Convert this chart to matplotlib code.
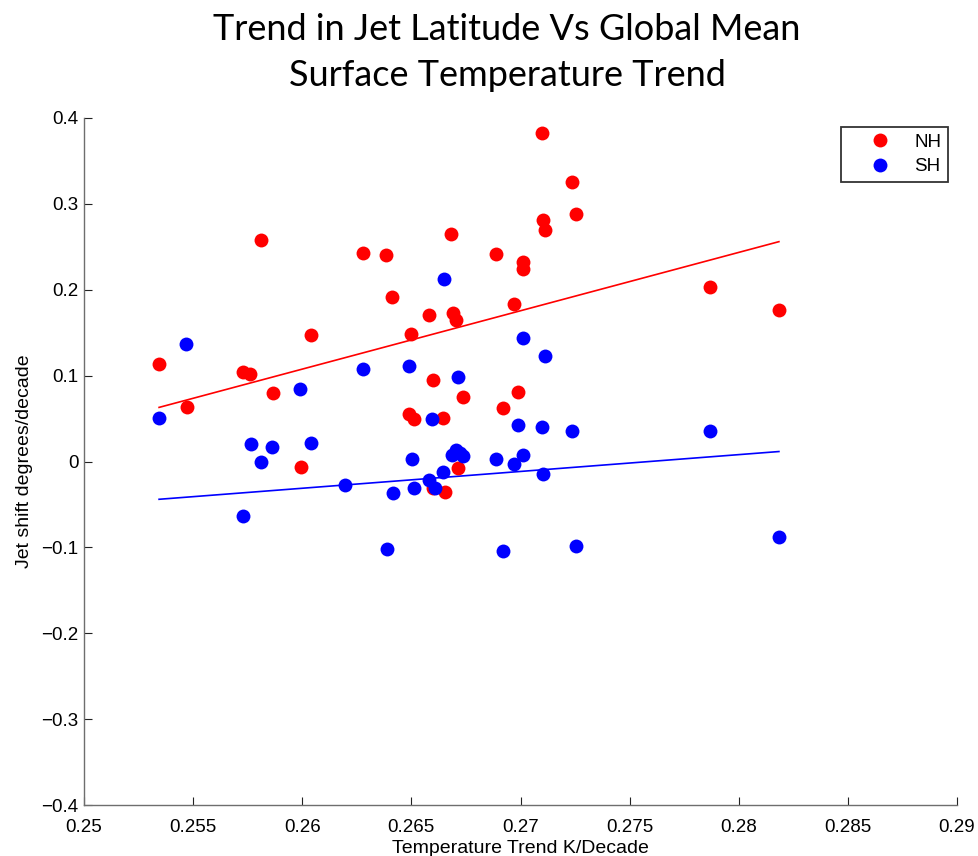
import matplotlib
matplotlib.use("Agg")
import matplotlib.pyplot as plt
import numpy as np

# NH (red) points
nh_x = [0.25344, 0.25472, 0.25729, 0.25761, 0.25811, 0.25866, 0.25994, 0.2604,
        0.26278, 0.26384, 0.26411, 0.26498, 0.26489, 0.26512, 0.26581, 0.26599,
        0.26599, 0.26645, 0.26654, 0.26682, 0.26691, 0.26704, 0.26714, 0.26737,
        0.26888, 0.2692, 0.2697, 0.26989, 0.27011, 0.27011, 0.27098, 0.27103,
        0.27112, 0.27236, 0.27254, 0.27868, 0.28184]
nh_y = [0.114, 0.064, 0.104, 0.102, 0.258, 0.080, -0.006, 0.147,
        0.243, 0.240, 0.191, 0.148, 0.055, 0.049, 0.171, 0.095,
        -0.031, 0.051, -0.035, 0.265, 0.173, 0.165, -0.007, 0.075,
        0.242, 0.062, 0.183, 0.081, 0.232, 0.224, 0.382, 0.281,
        0.270, 0.325, 0.288, 0.203, 0.177]

# SH (blue) points
sh_x = [0.25344, 0.25467, 0.25729, 0.25765, 0.25811, 0.25861, 0.2599, 0.2604,
        0.26196, 0.26278, 0.26416, 0.26388, 0.26489, 0.26503, 0.26512, 0.26581,
        0.26594, 0.26608, 0.26645, 0.2665, 0.26686, 0.26704, 0.26723, 0.26737,
        0.26714, 0.26888, 0.2692, 0.2697, 0.26989, 0.27011, 0.27011, 0.27098,
        0.27103, 0.27112, 0.27236, 0.27254, 0.27868, 0.28184]
sh_y = [0.051, 0.137, -0.064, 0.020, 0.000, 0.017, 0.084, 0.021,
        -0.027, 0.108, -0.037, -0.102, 0.111, 0.003, -0.031, -0.022,
        0.050, -0.031, -0.012, 0.212, 0.007, 0.013, 0.010, 0.006,
        0.098, 0.003, -0.104, -0.003, 0.043, 0.144, 0.008, 0.040,
        -0.015, 0.123, 0.035, -0.098, 0.035, -0.088]

# Fitted trend lines (end points)
fit_x = [0.25344, 0.28184]
nh_fit_y = [0.063, 0.256]
sh_fit_y = [-0.044, 0.0116]

xticks = [0.25, 0.255, 0.26, 0.265, 0.27, 0.275, 0.28, 0.285, 0.29]
xtick_labels = ["0.25", "0.255", "0.26", "0.265", "0.27", "0.275", "0.28", "0.285", "0.29"]
yticks = [-0.4, -0.3, -0.2, -0.1, 0, 0.1, 0.2, 0.3, 0.4]
ytick_labels = ["\u22120.4", "\u22120.3", "\u22120.2", "\u22120.1", "0", "0.1", "0.2", "0.3", "0.4"]

plt.rcParams['font.family'] = ['Liberation Sans', 'DejaVu Sans']

fig = plt.figure(figsize=(9.79, 8.56), dpi=100)
W, H = 979, 856
ax = fig.add_axes([84 / W, 1 - 805 / H, (957 - 84) / W, (805 - 118) / H])

ax.plot(nh_x, nh_y, 'o', color='#ff0000', markersize=10, markeredgewidth=0, label='NH', zorder=3)
ax.plot(sh_x, sh_y, 'o', color='#0000ff', markersize=10, markeredgewidth=0, label='SH', zorder=3)
ax.plot(fit_x, nh_fit_y, '-', color='#ff0000', linewidth=1.2, zorder=2)
ax.plot(fit_x, sh_fit_y, '-', color='#0000ff', linewidth=1.2, zorder=2)

ax.set_xlim(0.25, 0.29)
ax.set_ylim(-0.4, 0.4)
ax.set_xticks(xticks)
ax.set_xticklabels(xtick_labels)
ax.set_yticks(yticks)
ax.set_yticklabels(ytick_labels)
ax.tick_params(direction='in', length=6, width=0.8, labelsize=13.5, color='#222222')
ax.tick_params(axis='x', pad=10)
ax.tick_params(axis='y', pad=4)
for s in ['top', 'right']:
    ax.spines[s].set_visible(False)
for s in ['left', 'bottom']:
    ax.spines[s].set_linewidth(1.0)
    ax.spines[s].set_color('#6e6e6e')

ax.set_xlabel("Temperature Trend K/Decade", fontsize=14, labelpad=3)
ax.set_ylabel("Jet shift degrees/decade", fontsize=14, labelpad=6)

leg = ax.legend(loc='upper right', bbox_to_anchor=(948 / W, 1 - 127 / H), bbox_transform=fig.transFigure,
                frameon=True, fancybox=False, fontsize=13.5, handletextpad=0.09, borderpad=0.35,
                labelspacing=0.4, handlelength=3.46, borderaxespad=0)
leg.get_frame().set_edgecolor('black')
leg.get_frame().set_linewidth(1.3)

fig.text(507 / W, 1 - 30 / H, "Trend in Jet Latitude Vs Global Mean", ha='center', va='center',
         fontsize=26, family=['Lato', 'DejaVu Sans'])
fig.text(507 / W, 1 - 75 / H, "Surface Temperature Trend", ha='center', va='center',
         fontsize=26, family=['Lato', 'DejaVu Sans'])

fig.savefig("out.png", dpi=100)
